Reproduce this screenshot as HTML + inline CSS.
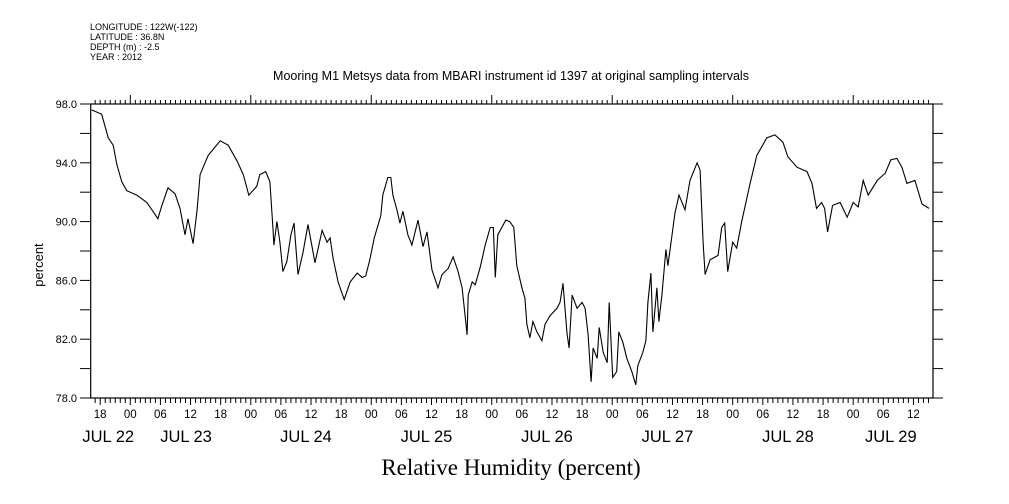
<!DOCTYPE html>
<html><head><meta charset="utf-8"><style>
body{margin:0;background:#fff;width:1009px;height:504px;overflow:hidden}
svg{display:block}
text{font-family:"Liberation Sans",sans-serif;fill:#000}
</style></head><body>
<svg id="chart" width="1009" height="504" viewBox="0 0 1009 504">
<g font-size="9">
<text x="90" y="30" font-size="9">LONGITUDE : 122W(-122)</text>
<text x="90" y="40" font-size="9">LATITUDE : 36.8N</text>
<text x="90" y="50" font-size="9">DEPTH (m) : -2.5</text>
<text x="90" y="60" font-size="9">YEAR : 2012</text>
</g>
<text x="511" y="80" font-size="12.5" text-anchor="middle">Mooring M1 Metsys data from MBARI instrument id 1397 at original sampling intervals</text>
<text transform="translate(43,265) rotate(-90)" font-size="13" text-anchor="middle">percent</text>
<text x="511" y="475" font-size="23" text-anchor="middle" style="font-family:'Liberation Serif',serif">Relative Humidity (percent)</text>
<g id="axes"></g>
<g id="series"></g>
</svg>
<script>
const hours=[16.3,18.3,19.6,20.6,21.3,22.3,23.3,25.3,27.3,28.5,29.5,30.3,31.5,32.9,33.9,34.9,35.5,36.5,37.3,37.9,39.5,41.9,43.5,45.3,46.5,47.6,49.2,49.8,51.0,51.8,52.4,52.6,53.2,53.8,54.4,55.2,56.0,56.6,57.4,58.4,59.4,60.8,62.2,63.2,63.8,64.4,65.4,66.6,67.8,69.2,70.2,70.9,71.7,72.6,73.9,74.3,75.3,75.9,76.3,77.1,77.7,78.3,79.3,80.1,81.3,82.3,83.1,84.1,85.3,86.1,87.3,88.3,89.3,90.1,90.7,91.1,91.3,92.1,92.7,93.7,94.7,95.7,96.3,96.7,97.2,98.8,99.6,100.4,101.0,102.0,102.6,103.0,103.6,104.2,105.0,106.0,106.6,107.6,109.0,109.6,110.2,111.0,111.4,112.0,113.0,114.0,114.6,115.2,115.8,116.2,117.0,117.4,118.2,119.0,119.4,120.1,120.9,121.3,122.1,122.9,123.9,124.7,125.1,126.1,126.7,127.1,127.7,128.1,128.9,129.3,129.9,130.7,131.1,132.5,133.3,134.5,135.5,136.9,137.5,138.1,138.5,139.5,141.1,141.8,142.4,143.0,144.0,144.8,145.8,147.4,148.8,150.8,152.4,154.0,155.0,156.8,158.8,159.8,160.7,161.7,162.3,162.9,163.9,165.4,166.8,168.0,169.0,170.0,171.0,172.8,174.4,175.5,176.7,177.7,178.7,180.3,181.7,183.1];
const humidity=[97.6,97.3,95.7,95.2,93.9,92.7,92.1,91.8,91.3,90.7,90.2,91.1,92.3,91.9,90.9,89.1,90.2,88.5,90.8,93.2,94.5,95.5,95.2,94.1,93.2,91.8,92.4,93.2,93.4,92.7,89.6,88.4,90.0,88.6,86.6,87.3,89.1,89.9,86.4,87.9,89.8,87.2,89.4,88.6,88.9,87.5,85.9,84.7,85.9,86.5,86.2,86.3,87.4,88.9,90.4,91.8,93.0,93.0,91.8,90.8,89.9,90.7,89.1,88.4,90.1,88.3,89.3,86.7,85.5,86.4,86.8,87.6,86.6,85.5,83.6,82.3,85.0,85.9,85.7,86.9,88.4,89.6,89.6,86.2,89.1,90.1,90.0,89.6,87.0,85.5,84.8,83.0,82.1,83.2,82.5,81.9,83.0,83.6,84.1,84.5,85.8,82.4,81.4,85.0,84.1,84.5,84.1,82.3,79.1,81.4,80.7,82.8,81.1,80.4,84.5,79.4,79.8,82.5,81.8,80.7,79.8,78.9,80.2,81.1,81.9,84.5,86.5,82.5,85.5,83.2,85.0,88.1,87.0,90.6,91.8,90.8,92.8,94.0,93.5,88.6,86.4,87.4,87.7,89.6,89.9,86.6,88.6,88.2,90.0,92.5,94.5,95.7,95.9,95.4,94.4,93.7,93.4,92.6,90.9,91.3,90.9,89.3,91.1,91.3,90.3,91.3,91.0,92.8,91.8,92.8,93.3,94.2,94.3,93.7,92.6,92.8,91.2,90.9];
const yTickValues=[78,80,82,84,86,88,90,92,94,96,98];
const yTickLabels=["78.0","","82.0","","86.0","","90.0","","94.0","","98.0"];
const hourLabels=["18","00","06","12"];
const dayLabels=["JUL 22","JUL 23","JUL 24","JUL 25","JUL 26","JUL 27","JUL 28","JUL 29"];
const dayLabelHours=[19.6,35.1,59,83,107,131,155,175.5];

const L=90.7,R=933,T=104,B=398,H0=16.11,H1=183.9,Y0=78,Y1=98;
const xs=h=>L+(h-H0)/(H1-H0)*(R-L);
const ys=v=>B-(v-Y0)/(Y1-Y0)*(B-T);
const NS="http://www.w3.org/2000/svg";
const ax=document.getElementById('axes');
function mk(tag,attrs,parent){const e=document.createElementNS(NS,tag);for(const k in attrs)e.setAttribute(k,attrs[k]);parent.appendChild(e);return e;}
const frame=mk('rect',{x:L,y:T,width:R-L,height:B-T,fill:'none',stroke:'#000','stroke-width':1.2},ax);


yTickValues.forEach((v,i)=>{
  const y=ys(v);
  const t1=mk('line',{x1:80,x2:L,y1:y,y2:y,stroke:'#000'},ax);
  
  
  const t2=mk('line',{x1:R,x2:R+10,y1:y,y2:y,stroke:'#000'},ax);
  
  
  if(yTickLabels[i]){
    const tx=mk('text',{x:77,y:y+4,'font-size':11,'text-anchor':'end'},ax);
    tx.textContent=yTickLabels[i];
    
    
  }
});
for(let h=Math.ceil(H0);h<=H1;h++){
  const x=xs(h);
  const major=h%6===0, day=h%24===0;
  const tb=mk('line',{x1:x,x2:x,y1:B,y2:B+(major?7:5),stroke:'#000'},ax);
  
  
  const tt=mk('line',{x1:x,x2:x,y1:T,y2:T-(day?9:4),stroke:'#000'},ax);
  
  
  if(major){
    const lb=mk('text',{x:x,y:418,'font-size':11.5,'text-anchor':'middle'},ax);
    lb.textContent=hourLabels[(h%24)/6===3?0:(h%24)/6+1];
    
    
  }
}
dayLabels.forEach((d,i)=>{
  const tx=mk('text',{x:xs(dayLabelHours[i]),y:442,'font-size':16.5,'text-anchor':'middle'},ax);
  tx.textContent=d;
  
  
});
const pts=hours.map((h,i)=>xs(h).toFixed(1)+','+ys(humidity[i]).toFixed(1)).join(' ');
const line=mk('polyline',{points:pts,fill:'none',stroke:'#000','stroke-width':1.1},document.getElementById('series'));


</script>
</body></html>
